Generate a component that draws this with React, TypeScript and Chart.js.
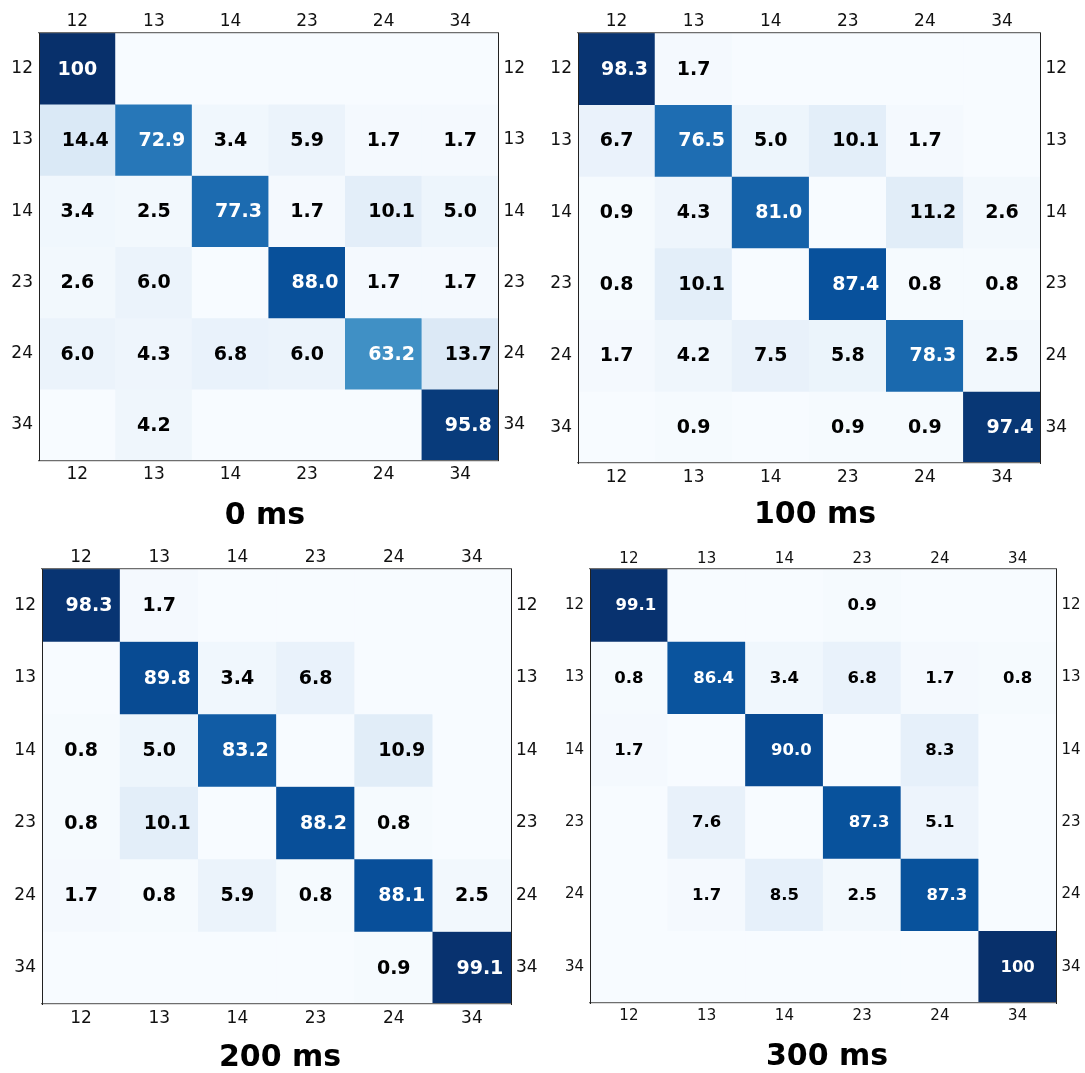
import React, { useEffect, useRef } from "react";
import { Chart, registerables } from "chart.js";

Chart.register(...registerables);

// ---------- data ----------
const categories = ["12", "13", "14", "23", "24", "34"];
const panelTitles = ["0 ms", "100 ms", "200 ms", "300 ms"];

const values0ms = [
  [100, 0, 0, 0, 0, 0],
  [14.4, 72.9, 3.4, 5.9, 1.7, 1.7],
  [3.4, 2.5, 77.3, 1.7, 10.1, 5.0],
  [2.6, 6.0, 0, 88.0, 1.7, 1.7],
  [6.0, 4.3, 6.8, 6.0, 63.2, 13.7],
  [0, 4.2, 0, 0, 0, 95.8],
];
const values100ms = [
  [98.3, 1.7, 0, 0, 0, 0],
  [6.7, 76.5, 5.0, 10.1, 1.7, 0],
  [0.9, 4.3, 81.0, 0, 11.2, 2.6],
  [0.8, 10.1, 0, 87.4, 0.8, 0.8],
  [1.7, 4.2, 7.5, 5.8, 78.3, 2.5],
  [0, 0.9, 0, 0.9, 0.9, 97.4],
];
const values200ms = [
  [98.3, 1.7, 0, 0, 0, 0],
  [0, 89.8, 3.4, 6.8, 0, 0],
  [0.8, 5.0, 83.2, 0, 10.9, 0],
  [0.8, 10.1, 0, 88.2, 0.8, 0],
  [1.7, 0.8, 5.9, 0.8, 88.1, 2.5],
  [0, 0, 0, 0, 0.9, 99.1],
];
const values300ms = [
  [99.1, 0, 0, 0.9, 0, 0],
  [0.8, 86.4, 3.4, 6.8, 1.7, 0.8],
  [1.7, 0, 90.0, 0, 8.3, 0],
  [0, 7.6, 0, 87.3, 5.1, 0],
  [0, 1.7, 8.5, 2.5, 87.3, 0],
  [0, 0, 0, 0, 0, 100],
];
const panelValues = [values0ms, values100ms, values200ms, values300ms];

// ---------- layout / style ----------
type Layout = {
  cx: number; cy: number; cw: number; ch: number;
  l: number; t: number; r: number; b: number;
  titleX: number; titleY: number;
  tickSize: number; cellSize: number;
};
const layouts: Layout[] = [
  { cx: 0, cy: 0, cw: 545, ch: 540, l: 39, t: 33, r: 498.5, b: 460.5, titleX: 265, titleY: 516, tickSize: 17, cellSize: 19 },
  { cx: 545, cy: 0, cw: 540, ch: 540, l: 578, t: 33, r: 1040.5, b: 463, titleX: 815, titleY: 515, tickSize: 17, cellSize: 19 },
  { cx: 0, cy: 540, cw: 545, ch: 533, l: 42, t: 569, r: 511, b: 1004, titleX: 280, titleY: 1058, tickSize: 17, cellSize: 19 },
  { cx: 545, cy: 540, cw: 540, ch: 533, l: 590, t: 569, r: 1056.5, b: 1003, titleX: 827, titleY: 1057, tickSize: 15, cellSize: 16.5 },
];

const FONT = "'DejaVu Sans', sans-serif";
const BLUES = [
  [247, 251, 255], [222, 235, 247], [198, 219, 239], [158, 202, 225],
  [107, 174, 214], [66, 146, 198], [33, 113, 181], [8, 81, 156], [8, 48, 107],
];
function blues(v: number): string {
  const t = Math.max(0, Math.min(1, v / 100)) * (BLUES.length - 1);
  const i = Math.min(BLUES.length - 2, Math.floor(t));
  const f = t - i;
  const c = BLUES[i].map((a, k) => Math.round(a + (BLUES[i + 1][k] - a) * f));
  return `rgb(${c[0]},${c[1]},${c[2]})`;
}
function fmt(v: number): string {
  return v >= 100 ? "100" : v.toFixed(1);
}

function Panel({ idx }: { idx: number }) {
  const ref = useRef<HTMLCanvasElement | null>(null);
  useEffect(() => {
    const L = layouts[idx];
    const vals = panelValues[idx];
    const title = panelTitles[idx];
    const leftW = L.l - L.cx;
    const topH = L.t - L.cy;
    const rightW = L.cx + L.cw - L.r;
    const bottomH = L.cy + L.ch - L.b;
    const tickFont = { family: FONT, size: L.tickSize };
    const tickColor = "#111";

    const cellText = {
      id: "cellText",
      afterDatasetsDraw(chart: any) {
        const ctx = chart.ctx;
        ctx.save();
        ctx.font = `bold ${L.cellSize}px ${FONT}`;
        ctx.textAlign = "center";
        ctx.textBaseline = "middle";
        chart.data.datasets.forEach((_ds: any, r: number) => {
          const meta = chart.getDatasetMeta(r);
          meta.data.forEach((bar: any, c: number) => {
            const v = vals[r][c];
            if (!v) return;
            const s = fmt(v);
            const shift = s.length >= 4 ? L.cellSize * 0.42 : 0;
            ctx.fillStyle = v > 50 ? "#ffffff" : "#000000";
            ctx.fillText(s, bar.x + shift, (bar.y + bar.base) / 2 + 1);
          });
        });
        ctx.restore();
      },
      afterDraw(chart: any) {
        const ctx = chart.ctx;
        ctx.save();
        ctx.font = `bold 30px ${FONT}`;
        ctx.fillStyle = "#000";
        ctx.textAlign = "center";
        ctx.textBaseline = "middle";
        ctx.fillText(title, L.titleX - L.cx, L.titleY - L.cy);
        ctx.restore();
      },
    };

    const xCommon = (pos: string, size: number, padding: number) => ({
      type: "category",
      position: pos,
      offset: true,
      grid: { display: false, drawTicks: false, offset: true },
      border: { display: true, color: "#6e6e6e", width: 1.2, z: 1 },
      ticks: { font: tickFont, color: tickColor, padding, maxRotation: 0, autoSkip: false },
      afterFit: (s: any) => { s.height = size; },
    });
    const yCommon = (pos: string, size: number, padding: number) => ({
      type: "linear",
      position: pos,
      min: 0,
      max: 6,
      reverse: true,
      grid: { display: false, drawTicks: false },
      border: { display: true, color: "#222", width: 1, z: 1 },
      afterBuildTicks: (s: any) => {
        s.ticks = categories.map((_c, i) => ({ value: i + 0.5 }));
      },
      ticks: {
        font: tickFont,
        color: tickColor,
        padding,
        autoSkip: false,
        callback: (v: any) => categories[Math.floor(Number(v))],
      },
      afterFit: (s: any) => { s.width = size; },
    });

    const chart = new Chart(ref.current as HTMLCanvasElement, {
      type: "bar",
      data: {
        labels: categories,
        datasets: vals.map((row, r) => ({
          label: categories[r],
          data: row.map(() => [r, r + 1]),
          backgroundColor: row.map((v) => blues(v)),
          borderWidth: 0,
          barPercentage: 1,
          categoryPercentage: 1,
          grouped: false,
          xAxisID: "x",
          yAxisID: "y",
        })),
      } as any,
      options: {
        animation: false,
        responsive: false,
        devicePixelRatio: 1,
        layout: { padding: 0 },
        plugins: { legend: { display: false }, tooltip: { enabled: false }, title: { display: false } },
        scales: {
          x: xCommon("bottom", bottomH, 4),
          x2: { ...xCommon("top", topH, 1), labels: categories },
          y: yCommon("left", leftW, 6),
          y2: yCommon("right", rightW, 5),
        } as any,
      },
      plugins: [cellText],
    });
    return () => chart.destroy();
  }, [idx]);
  const L = layouts[idx];
  return (
    <canvas
      ref={ref}
      width={L.cw}
      height={L.ch}
      style={{ position: "absolute", left: L.cx, top: L.cy, width: L.cw, height: L.ch }}
    />
  );
}

export default function App() {
  return (
    <div style={{ position: "absolute", left: 0, top: 0, width: 1085, height: 1073, background: "#fff" }}>
      {[0, 1, 2, 3].map((i) => (
        <Panel key={i} idx={i} />
      ))}
    </div>
  );
}
